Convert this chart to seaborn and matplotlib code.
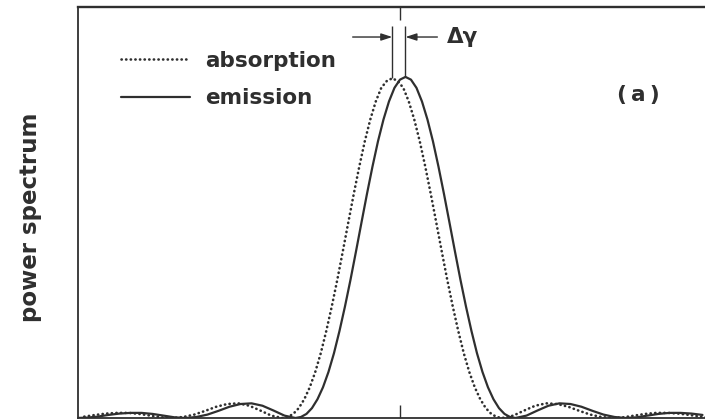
import matplotlib
matplotlib.use("Agg")
import matplotlib.pyplot as plt
import numpy as np
import pandas as pd
import seaborn as sns

# Frequency offsets (units of the line width) and normalised power;
# the central lobe is sampled more finely than the side lobes.
absorption_x = [-2.87, -2.77, -2.67, -2.57, -2.47, -2.37, -2.27, -2.17, -2.07, -1.97,
                -1.87, -1.77, -1.67, -1.57, -1.47, -1.37, -1.27, -1.17,
                -1.07, -1.02, -0.97, -0.92, -0.87, -0.82, -0.77, -0.72, -0.67, -0.62,
                -0.57, -0.52, -0.47, -0.42, -0.37, -0.32, -0.27, -0.22, -0.17, -0.12,
                -0.07, -0.02, 0.03, 0.08, 0.13, 0.18, 0.23, 0.28, 0.33, 0.38,
                0.43, 0.48, 0.53, 0.58, 0.63, 0.68, 0.73, 0.78, 0.83, 0.88, 0.93,
                1.03, 1.13, 1.23, 1.33, 1.43, 1.53, 1.63, 1.73, 1.83, 1.93,
                2.03, 2.13, 2.23, 2.33, 2.43, 2.53, 2.63, 2.73, 2.83]
absorption_y = [0.004, 0.009, 0.013, 0.015, 0.015, 0.012, 0.007, 0.002, 0.000, 0.003,
                0.010, 0.021, 0.033, 0.041, 0.043, 0.036, 0.022, 0.007,
                0.000, 0.003, 0.012, 0.029, 0.055, 0.090, 0.135, 0.190, 0.255, 0.327,
                0.405, 0.488, 0.573, 0.657, 0.737, 0.811, 0.875, 0.928, 0.968, 0.988,
                0.996, 0.988, 0.968, 0.928, 0.875, 0.811, 0.737, 0.657, 0.573, 0.488,
                0.405, 0.327, 0.255, 0.190, 0.135, 0.090, 0.055, 0.029, 0.012, 0.003, 0.000,
                0.007, 0.022, 0.036, 0.043, 0.041, 0.033, 0.021, 0.010, 0.003, 0.000,
                0.002, 0.007, 0.012, 0.015, 0.015, 0.013, 0.009, 0.004, 0.001]

emission_x = [-2.95, -2.85, -2.75, -2.65, -2.55, -2.45, -2.35, -2.25, -2.15, -2.05,
              -1.95, -1.85, -1.75, -1.65, -1.55, -1.45, -1.35, -1.25, -1.15, -1.05,
              -0.95, -0.90, -0.85, -0.80, -0.75, -0.70, -0.65, -0.60, -0.55, -0.50,
              -0.45, -0.40, -0.35, -0.30, -0.25, -0.20, -0.15, -0.10, -0.05, 0.00,
              0.05, 0.10, 0.15, 0.20, 0.25, 0.30, 0.35, 0.40, 0.45, 0.50,
              0.55, 0.60, 0.65, 0.70, 0.75, 0.80, 0.85, 0.90, 0.95, 1.00, 1.05,
              1.15, 1.25, 1.35, 1.45, 1.55, 1.65, 1.75, 1.85, 1.95,
              2.05, 2.15, 2.25, 2.35, 2.45, 2.55, 2.65, 2.75]
emission_y = [0.000, 0.001, 0.004, 0.009, 0.013, 0.015, 0.015, 0.012, 0.007, 0.002,
              0.000, 0.003, 0.010, 0.021, 0.033, 0.041, 0.043, 0.036, 0.022, 0.007,
              0.000, 0.003, 0.012, 0.029, 0.055, 0.090, 0.135, 0.190, 0.255, 0.327,
              0.405, 0.488, 0.573, 0.657, 0.737, 0.811, 0.875, 0.928, 0.968, 0.992,
              1.000, 0.992, 0.968, 0.928, 0.875, 0.811, 0.737, 0.657, 0.573, 0.488,
              0.405, 0.327, 0.255, 0.190, 0.135, 0.090, 0.055, 0.029, 0.012, 0.003, 0.000,
              0.007, 0.022, 0.036, 0.043, 0.041, 0.033, 0.021, 0.010, 0.003,
              0.000, 0.002, 0.007, 0.012, 0.015, 0.015, 0.013, 0.009]

series_labels = ["absorption", "emission"]
shift_label = "\u0394\u03b3"
panel_label = "(\u2009a\u2009)"
y_label = "power spectrum"

sns.set_style("white")
plt.rcParams["font.family"] = ["DejaVu Sans"]
INK = "#2f2f2f"
FS = 15.5

absorption = pd.DataFrame({"freq": absorption_x, "power": absorption_y})
emission = pd.DataFrame({"freq": emission_x, "power": emission_y})

fig = plt.figure(figsize=(7.05, 4.2), dpi=100)
ax = fig.add_axes([78 / 705, 2 / 420, 627 / 705, 411 / 420])

sns.lineplot(data=absorption, x="freq", y="power", ax=ax, color=INK, lw=1.9,
             linestyle=(0, (0.1, 1.65)), dash_capstyle="round",
             label=series_labels[0])
sns.lineplot(data=emission, x="freq", y="power", ax=ax, color=INK, lw=1.6,
             label=series_labels[1])

ax.set_xlim(-2.927, 2.773)
ax.set_ylim(0, 1.205)
ax.set_xticks([0])
ax.set_xticklabels([])
ax.set_yticks([])
ax.tick_params(axis="x", direction="in", length=9.5, width=1.0, color=INK,
               top=True, bottom=True)
ax.set_xlabel("")

for side in ("left", "top", "bottom"):
    ax.spines[side].set_color(INK)
    ax.spines[side].set_linewidth(1.3)
ax.spines["top"].set_linewidth(1.7)
ax.spines["right"].set_visible(False)

ax.set_ylabel(y_label, fontsize=16.5, fontweight="bold", color=INK)
ax.yaxis.label.set_verticalalignment("center")
ax.yaxis.set_label_coords(-0.075, 0.489)

ax.legend(loc="upper left", bbox_to_anchor=(0.0686, 0.893), frameon=False,
          prop={"size": FS, "weight": "bold"}, labelcolor=INK,
          handlelength=3.2, handletextpad=0.7, labelspacing=0.81,
          borderpad=0, borderaxespad=0)

# Peak positions of the two lines and the shift between them
x_abs = absorption_x[int(np.argmax(absorption_y))]
x_emi = emission_x[int(np.argmax(emission_y))]
y_bar = 1.117
for xp, yp in ((x_abs, max(absorption_y)), (x_emi, max(emission_y))):
    ax.plot([xp, xp], [yp, 1.15], color=INK, lw=1.0, solid_capstyle="butt")

arrow = dict(arrowstyle="-|>,head_length=0.55,head_width=0.18", color=INK,
             lw=1.0, shrinkA=0, shrinkB=0, mutation_scale=12)
ax.annotate("", xy=(x_abs, y_bar), xytext=(x_abs - 0.36, y_bar), arrowprops=arrow)
ax.annotate("", xy=(x_emi, y_bar), xytext=(x_emi + 0.29, y_bar), arrowprops=arrow)
ax.text(0.427, y_bar, shift_label, fontsize=FS, fontweight="bold", color=INK,
        ha="left", va="center")

ax.text(2.164, 0.947, panel_label, fontsize=FS, fontweight="bold", color=INK,
        ha="center", va="center")

fig.savefig("out.png", dpi=100)
